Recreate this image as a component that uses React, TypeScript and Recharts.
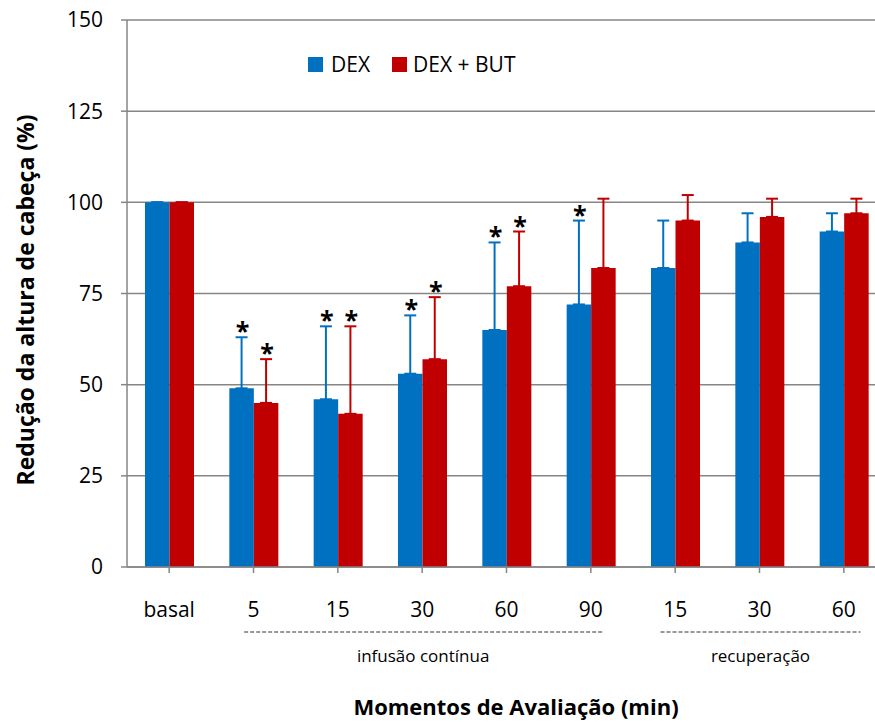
import React from 'react';
import { BarChart, Bar, XAxis, YAxis, CartesianGrid, ErrorBar, LabelList, Legend } from 'recharts';

const categories = ['basal', '5', '15', '30', '60', '90', '15', '30', '60'];
const dexValues = [100, 49, 46, 53, 65, 72, 82, 89, 92];
const dexErrors = [0, 14, 20, 16, 24, 23, 13, 8, 5];
const dexButValues = [100, 45, 42, 57, 77, 82, 95, 96, 97];
const dexButErrors = [0, 12, 24, 17, 15, 19, 7, 5, 4];
const dexSignificant = [false, true, true, true, true, true, false, false, false];
const dexButSignificant = [false, true, true, true, true, false, false, false, false];
const yTicks = [0, 25, 50, 75, 100, 125, 150];
const seriesNames = ['DEX', 'DEX + BUT'];
const groupTexts = ['infusão contínua', 'recuperação'];
const groupCenterIndex = [3, 7];

const BLUE = '#0070C0';
const RED = '#C00000';
const AXIS = '#868686';
const FONT = '"Open Sans", "Noto Sans", sans-serif';

const data = categories.map((c, i) => ({
  label: c,
  dex: dexValues[i],
  dexErr: [0, dexErrors[i]],
  dexBut: dexButValues[i],
  dexButErr: [0, dexButErrors[i]],
}));

const groupHalfWidths = [179, 100];

const XTick = (props: any) => {
  const { x, y, payload, index } = props;
  const g = groupCenterIndex.indexOf(index);
  return (
    <g>
      <text x={x} y={y + 42} textAnchor="middle" fontSize={21} fontFamily={FONT} fill="#000">
        {payload.value}
      </text>
      {g >= 0 && (
        <g>
          <line
            x1={x - groupHalfWidths[g] + 1}
            x2={x + groupHalfWidths[g] + 1}
            y1={y + 57}
            y2={y + 57}
            stroke="#333"
            strokeWidth={1}
            strokeDasharray="4 2"
          />
          <text x={x + 1} y={y + 87} textAnchor="middle" fontSize={17} fontFamily={FONT} fill="#000">
            {groupTexts[g]}
          </text>
        </g>
      )}
    </g>
  );
};

const makeStar = (errs: number[], sig: boolean[]) => (props: any) => {
  const { x, y, width, height, value, index } = props;
  if (!sig[index]) return null;
  const ppu = Number(height) / Number(value);
  const top = Number(y) - errs[index] * ppu;
  return (
    <text
      x={Number(x) + Number(width) / 2 + 1}
      y={top + 3}
      textAnchor="middle"
      fontSize={25}
      fontWeight="bold"
      fontFamily={FONT}
      fill="#000"
    >
      *
    </text>
  );
};

const LegendContent = () => (
  <div style={{ display: 'flex', alignItems: 'center', fontFamily: FONT, fontSize: 21, color: '#000', lineHeight: '26px' }}>
    <span style={{ display: 'inline-block', width: 15, height: 15, background: BLUE, marginRight: 8 }} />
    <span>{seriesNames[0]}</span>
    <span style={{ display: 'inline-block', width: 15, height: 15, background: RED, marginLeft: 22, marginRight: 6 }} />
    <span>{seriesNames[1]}</span>
  </div>
);

export default function App() {
  return (
    <div style={{ position: 'fixed', left: 0, top: 0, width: 875, height: 724, overflow: 'hidden', background: '#fff' }}>
      <BarChart
        width={900}
        height={724}
        data={data}
        margin={{ top: 20, right: 14, left: 0, bottom: 0 }}
        barGap={0}
        barSize={24.5}
      >
        <CartesianGrid vertical={false} stroke={AXIS} strokeWidth={1.5} />
        <XAxis
          dataKey="label"
          interval={0}
          height={157}
          tickSize={6}
          tickLine={{ stroke: AXIS, strokeWidth: 1.5 }}
          axisLine={{ stroke: AXIS, strokeWidth: 1.5 }}
          tick={<XTick />}
          label={{
            content: () => (
              <text x={516} y={715} textAnchor="middle" fontSize={22} fontWeight="bold" fontFamily={FONT} fill="#000">
                Momentos de Avaliação (min)
              </text>
            ),
          }}
        />
        <YAxis
          width={127}
          domain={[0, 150]}
          ticks={yTicks}
          interval={0}
          tickSize={6}
          tickMargin={18}
          tickLine={{ stroke: AXIS, strokeWidth: 1.5 }}
          axisLine={{ stroke: AXIS, strokeWidth: 1.5 }}
          tick={{ fill: '#000', fontSize: 21, fontFamily: FONT }}
          label={{
            content: () => (
              <text
                x={34}
                y={300}
                transform="rotate(-90 34 300)"
                textAnchor="middle"
                fontSize={23}
                fontWeight="bold"
                fontFamily={FONT}
                fill="#000"
              >
                Redução da altura de cabeça (%)
              </text>
            ),
          }}
        />
        <Legend
          layout="horizontal"
          verticalAlign="middle"
          align="center"
          wrapperStyle={{ top: 51, left: 308, width: 300, height: 26 }}
          content={<LegendContent />}
        />
        <Bar dataKey="dex" name={seriesNames[0]} fill={BLUE} isAnimationActive={false}>
          <ErrorBar dataKey="dexErr" direction="y" width={6} stroke={BLUE} strokeWidth={2} />
          <LabelList dataKey="dex" content={makeStar(dexErrors, dexSignificant)} />
        </Bar>
        <Bar dataKey="dexBut" name={seriesNames[1]} fill={RED} isAnimationActive={false}>
          <ErrorBar dataKey="dexButErr" direction="y" width={6} stroke={RED} strokeWidth={2} />
          <LabelList dataKey="dexBut" content={makeStar(dexButErrors, dexButSignificant)} />
        </Bar>
      </BarChart>
    </div>
  );
}
